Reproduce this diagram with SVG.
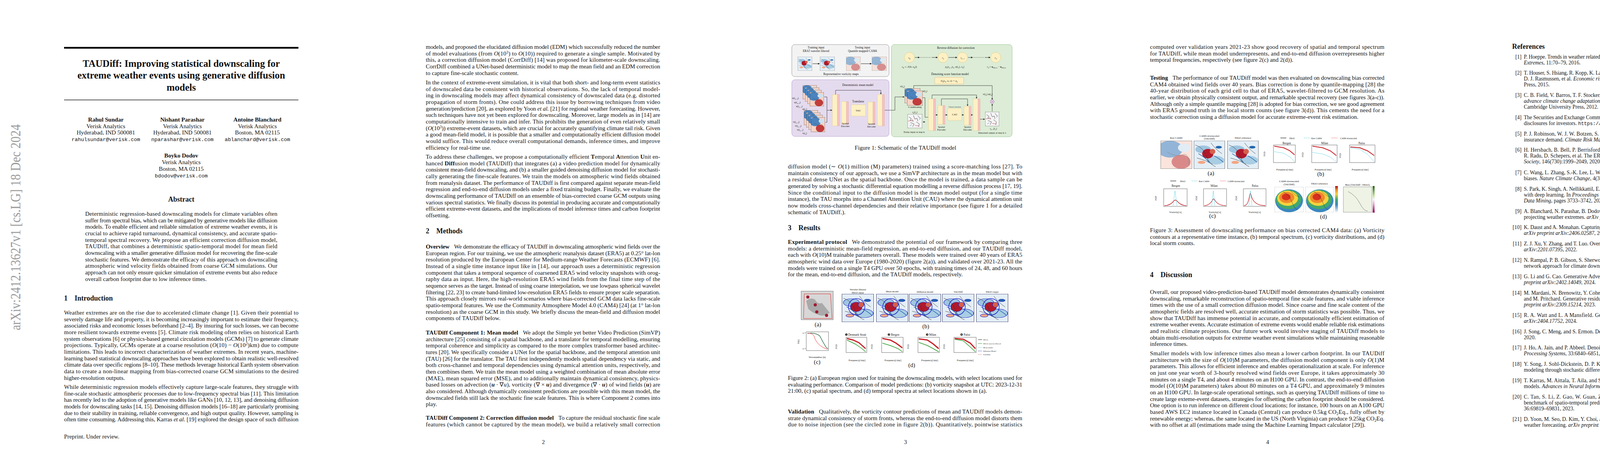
<svg xmlns="http://www.w3.org/2000/svg" width="4635" height="1200" viewBox="0 0 4635 1200">
<style>
text{font-family:"Liberation Serif","Times New Roman",serif;fill:#111}
.t{font-size:15.1px}
.r{font-size:13.6px}
.h{font-size:18px;font-weight:bold}
.f{font-size:7.5px}
.fs{font-size:6.5px}
.c{text-anchor:middle}
.m{font-family:"Liberation Mono","Courier New",monospace;font-size:13.3px}
.i{font-style:italic}
.b{font-weight:bold}
.ax{fill:#fff;stroke:#333;stroke-width:0.7}
.grid{stroke:#ddd;stroke-width:0.5}
</style>
<defs>
<symbol id="vort" viewBox="0 0 100 130" preserveAspectRatio="none">
<rect width="100" height="130" fill="#e4eef6"/>
<ellipse cx="30" cy="40" rx="25" ry="18" fill="#9ec5e0"/>
<ellipse cx="70" cy="90" rx="28" ry="20" fill="#a9cde3"/>
<ellipse cx="45" cy="60" rx="18" ry="22" fill="#b2182b"/>
<ellipse cx="60" cy="50" rx="9" ry="12" fill="#d6604d"/>
<ellipse cx="25" cy="100" rx="12" ry="7" fill="#f4a582"/>
<ellipse cx="80" cy="30" rx="10" ry="6" fill="#2166ac"/>
<path d="M5 20 Q30 30 40 70 T70 120 M55 10 Q70 40 90 60 M10 80 Q40 90 60 110" fill="none" stroke="#333" stroke-width="1.2"/>
<path d="M15 60 Q35 75 50 100 M65 70 Q80 80 95 100" fill="none" stroke="#2166ac" stroke-width="2"/>
<rect width="100" height="130" fill="none" stroke="#222" stroke-width="1.5"/>
</symbol>
<symbol id="blue" viewBox="0 0 100 100" preserveAspectRatio="none">
<rect width="100" height="100" fill="#f7d3c5"/>
<ellipse cx="30" cy="30" rx="40" ry="30" fill="#4a83bd"/>
<ellipse cx="65" cy="75" rx="30" ry="25" fill="#c23c3c"/>
<ellipse cx="75" cy="25" rx="20" ry="15" fill="#cfe1ef"/>
<path d="M20 40 Q50 60 70 50 T90 90" fill="none" stroke="#333" stroke-width="1"/>
<rect width="100" height="100" fill="none" stroke="#222" stroke-width="2"/>
</symbol>
<symbol id="noise" viewBox="0 0 100 100" preserveAspectRatio="none">
<rect width="100" height="100" fill="#f4f4f4"/>
<path d="M10 20 l15 10 l-5 15 l20 5 M40 10 l10 25 l15 -5 l5 20 M20 60 l25 10 l-10 20 M60 55 l20 15 l-5 20 M70 10 l15 20" fill="none" stroke="#222" stroke-width="2"/>
<path d="M5 50 l20 -5 M50 80 l30 5 M30 35 l10 15" stroke="#b2182b" stroke-width="2"/>
<path d="M15 85 l15 -10 M80 40 l10 -15" stroke="#2166ac" stroke-width="2"/>
<rect width="100" height="100" fill="none" stroke="#222" stroke-width="2"/>
</symbol>
<symbol id="storm" viewBox="0 0 100 100" preserveAspectRatio="none">
<rect width="100" height="100" fill="#fff" stroke="#999"/>
<ellipse cx="50" cy="55" rx="48" ry="45" fill="#3a87c0"/>
<ellipse cx="48" cy="50" rx="44" ry="38" fill="#43a96b"/>
<ellipse cx="45" cy="45" rx="36" ry="30" fill="#f5d33f"/>
<ellipse cx="42" cy="42" rx="26" ry="22" fill="#f08a2c"/>
<ellipse cx="40" cy="40" rx="15" ry="13" fill="#d7301f"/>
<path d="M30 20 Q50 30 60 60 T80 90 M55 15 Q70 35 85 40" fill="none" stroke="#222" stroke-width="0.8"/>
</symbol>
<marker id="ar" viewBox="0 0 10 10" refX="9" refY="5" markerWidth="5" markerHeight="5" orient="auto"><path d="M0 0L10 5L0 10z" fill="#222"/></marker>
</defs>
<rect width="4635" height="1200" fill="#fff"/>

<!-- PAGE 1 -->
<g id="page1">
<text transform="translate(52,845) rotate(-90)" font-size="36" style="fill:#9a9a9a" textLength="527" lengthAdjust="spacingAndGlyphs">arXiv:2412.13627v1  [cs.LG]  18 Dec 2024</text>
<rect x="164" y="120" width="600" height="4.5" fill="#000"/>
<text class="c" x="464" y="171" font-size="25" font-weight="bold">TAUDiff: Improving statistical downscaling for</text>
<text class="c" x="464" y="201" font-size="25" font-weight="bold">extreme weather events using generative diffusion</text>
<text class="c" x="464" y="232" font-size="25" font-weight="bold">models</text>
<rect x="164" y="255" width="600" height="1.3" fill="#000"/>
<text class="t c b" x="271" y="311">Rahul Sundar</text>
<text class="t c" x="271" y="328">Verisk Analytics</text>
<text class="t c" x="271" y="344">Hyderabad, IND 500081</text>
<text class="m c" x="271" y="361">rahulsundar@verisk.com</text>
<text class="t c b" x="467" y="311">Nishant Parashar</text>
<text class="t c" x="467" y="328">Verisk Analytics</text>
<text class="t c" x="467" y="344">Hyderabad, IND 500081</text>
<text class="m c" x="467" y="361">nparashar@verisk.com</text>
<text class="t c b" x="659" y="311">Antoine Blanchard</text>
<text class="t c" x="659" y="328">Verisk Analytics</text>
<text class="t c" x="659" y="344">Boston, MA 02115</text>
<text class="m c" x="659" y="361">ablanchard@verisk.com</text>
<text class="t c b" x="464" y="403">Boyko Dodov</text>
<text class="t c" x="464" y="420">Verisk Analytics</text>
<text class="t c" x="464" y="437">Boston, MA 02115</text>
<text class="m c" x="464" y="454">bdodov@verisk.com</text>
<text class="h c" x="464" y="516">Abstract</text>
<text class="t" x="218" y="552" textLength="492">Deterministic regression-based downscaling models for climate variables often</text>
<text class="t" x="218" y="568.6" textLength="492">suffer from spectral bias, which can be mitigated by generative models like diffusion</text>
<text class="t" x="218" y="585.3" textLength="492">models. To enable efficient and reliable simulation of extreme weather events, it is</text>
<text class="t" x="218" y="601.9" textLength="492">crucial to achieve rapid turnaround, dynamical consistency, and accurate spatio-</text>
<text class="t" x="218" y="618.6" textLength="492">temporal spectral recovery. We propose an efficient correction diffusion model,</text>
<text class="t" x="218" y="635.2" textLength="492">TAUDiff, that combines a deterministic spatio-temporal model for mean field</text>
<text class="t" x="218" y="651.9" textLength="492">downscaling with a smaller generative diffusion model for recovering the fine-scale</text>
<text class="t" x="218" y="668.5" textLength="492">stochastic features. We demonstrate the efficacy of this approach on downscaling</text>
<text class="t" x="218" y="685.2" textLength="492">atmospheric wind velocity fields obtained from coarse GCM simulations. Our</text>
<text class="t" x="218" y="701.8" textLength="492">approach can not only ensure quicker simulation of extreme events but also reduce</text>
<text class="t" x="218" y="718.5">overall carbon footprint due to low inference times.</text>
<text class="h" x="164" y="769">1</text><text class="h" x="191" y="769">Introduction</text>
<text class="t" x="164" y="805" textLength="600">Weather extremes are on the rise due to accelerated climate change [1]. Given their potential to</text>
<text class="t" x="164" y="821.6" textLength="600">severely damage life and property, it is becoming increasingly important to estimate their frequency,</text>
<text class="t" x="164" y="838.3" textLength="600">associated risks and economic losses beforehand [2–4]. By insuring for such losses, we can become</text>
<text class="t" x="164" y="854.9" textLength="600">more resilient towards extreme events [5]. Climate risk modeling often relies on historical Earth</text>
<text class="t" x="164" y="871.6" textLength="600">system observations [6] or physics-based general circulation models (GCMs) [7] to generate climate</text>
<text class="t" x="164" y="888.2" textLength="600">projections. Typically, GCMs operate at a coarse resolution (<tspan class="i">O</tspan>(10) − <tspan class="i">O</tspan>(10<tspan dy="-5" font-size="10">2</tspan><tspan dy="5">)km) due to compute</tspan></text>
<text class="t" x="164" y="904.9" textLength="600">limitations. This leads to incorrect characterization of weather extremes. In recent years, machine-</text>
<text class="t" x="164" y="921.5" textLength="600">learning based statistical downscaling approaches have been explored to obtain realistic well-resolved</text>
<text class="t" x="164" y="938.2" textLength="600">climate data over specific regions [8–10]. These methods leverage historical Earth system observation</text>
<text class="t" x="164" y="954.8" textLength="600">data to create a non-linear mapping from bias-corrected coarse GCM simulations to the desired</text>
<text class="t" x="164" y="971.5">higher-resolution outputs.</text>
<text class="t" x="164" y="995" textLength="600">While deterministic regression models effectively capture large-scale features, they struggle with</text>
<text class="t" x="164" y="1011.6" textLength="600">fine-scale stochastic atmospheric processes due to low-frequency spectral bias [11]. This limitation</text>
<text class="t" x="164" y="1028.3" textLength="600">has recently led to the adoption of generative models like GANs [10, 12, 13], and denoising diffusion</text>
<text class="t" x="164" y="1044.9" textLength="600">models for downscaling tasks [14, 15]. Denoising diffusion models [16–18] are particularly promising</text>
<text class="t" x="164" y="1061.6" textLength="600">due to their stability in training, reliable convergence, and high output quality. However, sampling is</text>
<text class="t" x="164" y="1078.2" textLength="600">often time consuming. Addressing this, Karras <tspan class="i">et al.</tspan> [19] explored the design space of such diffusion</text>
<text class="t" x="164" y="1122">Preprint. Under review.</text>
</g>

<!-- PAGE 2 -->
<g id="page2" transform="translate(927,0)">
<text class="t" x="163" y="125" textLength="600">models, and proposed the elucidated diffusion model (EDM) which successfully reduced the number</text>
<text class="t" x="163" y="141.6" textLength="600">of model evaluations (from <tspan class="i">O</tspan>(10<tspan dy="-5" font-size="10">3</tspan><tspan dy="5">) to </tspan><tspan class="i">O</tspan>(10)) required to generate a single sample. Motivated by</text>
<text class="t" x="163" y="158.3" textLength="600">this, a correction diffusion model (CorrDiff) [14] was proposed for kilometer-scale downscaling.</text>
<text class="t" x="163" y="174.9" textLength="600">CorrDiff combined a UNet-based deterministic model to map the mean field and an EDM correction</text>
<text class="t" x="163" y="191.6">to capture fine-scale stochastic content.</text>
<text class="t" x="163" y="216" textLength="600">In the context of extreme-event simulation, it is vital that both short- and long-term event statistics</text>
<text class="t" x="163" y="232.6" textLength="600">of downscaled data be consistent with historical observations. So, the lack of temporal model-</text>
<text class="t" x="163" y="249.3" textLength="600">ing in downscaling models may affect dynamical consistency of downscaled data (e.g. distorted</text>
<text class="t" x="163" y="265.9" textLength="600">propagation of storm fronts). One could address this issue by borrowing techniques from video</text>
<text class="t" x="163" y="282.6" textLength="600">generation/prediction [20], as explored by Yoon <tspan class="i">et al.</tspan> [21] for regional weather forecasting. However,</text>
<text class="t" x="163" y="299.2" textLength="600">such techniques have not yet been explored for downscaling. Moreover, large models as in [14] are</text>
<text class="t" x="163" y="315.9" textLength="600">computationally intensive to train and infer. This prohibits the generation of even relatively small</text>
<text class="t" x="163" y="332.5" textLength="600">(<tspan class="i">O</tspan>(10<tspan dy="-5" font-size="10">3</tspan><tspan dy="5">)) extreme-event datasets, which are crucial for accurately quantifying climate tail risk. Given</tspan></text>
<text class="t" x="163" y="349.2" textLength="600">a good mean-field model, it is possible that a smaller and computationally efficient diffusion model</text>
<text class="t" x="163" y="365.8" textLength="600">would suffice. This would reduce overall computational demands, inference times, and improve</text>
<text class="t" x="163" y="382.5">efficiency for real-time use.</text>
<text class="t" x="163" y="406" textLength="600">To address these challenges, we propose a computationally efficient <tspan class="b">T</tspan>emporal <tspan class="b">A</tspan>ttention <tspan class="b">U</tspan>nit en-</text>
<text class="t" x="163" y="422.6" textLength="600">hanced <tspan class="b">Diff</tspan>usion model (TAUDiff) that integrates (a) a video prediction model for dynamically</text>
<text class="t" x="163" y="439.3" textLength="600">consistent mean-field downscaling, and (b) a smaller guided denoising diffusion model for stochasti-</text>
<text class="t" x="163" y="455.9" textLength="600">cally generating the fine-scale features. We train the models on atmospheric wind fields obtained</text>
<text class="t" x="163" y="472.6" textLength="600">from reanalysis dataset. The performance of TAUDiff is first compared against separate mean-field</text>
<text class="t" x="163" y="489.2" textLength="600">regression and end-to-end diffusion models under a fixed training budget. Finally, we evaluate the</text>
<text class="t" x="163" y="505.9" textLength="600">downscaling performance of TAUDiff on an ensemble of bias-corrected coarse GCM outputs using</text>
<text class="t" x="163" y="522.5" textLength="600">various spectral statistics. We finally discuss its potential in producing accurate and computationally</text>
<text class="t" x="163" y="539.2" textLength="600">efficient extreme-event datasets, and the implications of model inference times and carbon footprint</text>
<text class="t" x="163" y="555.8">offsetting.</text>
<text class="h" x="163" y="597">2</text><text class="h" x="190" y="597">Methods</text>
<text class="t" x="163" y="636" textLength="600"><tspan class="b">Overview</tspan><tspan dx="12">We demonstrate the efficacy of TAUDiff in downscaling atmospheric wind fields over the</tspan></text>
<text class="t" x="163" y="652.6" textLength="600">European region. For our training, we use the atmospheric reanalysis dataset (ERA5) at 0.25° lat-lon</text>
<text class="t" x="163" y="669.3" textLength="600">resolution produced by the European Center for Medium-range Weather Forecasts (ECMWF) [6].</text>
<text class="t" x="163" y="685.9" textLength="600">Instead of a single time instance input like in [14], our approach uses a deterministic regression</text>
<text class="t" x="163" y="702.6" textLength="600">component that takes a temporal sequence of coarsened ERA5 wind velocity snapshots with orog-</text>
<text class="t" x="163" y="719.2" textLength="600">raphy data as input. Here, the high-resolution ERA5 wind fields from the final time step of the</text>
<text class="t" x="163" y="735.9" textLength="600">sequence serves as the target. Instead of using coarse interpolation, we use lowpass spherical wavelet</text>
<text class="t" x="163" y="752.5" textLength="600">filtering [22, 23] to create band-limited low-resolution ERA5 fields to ensure proper scale separation.</text>
<text class="t" x="163" y="769.2" textLength="600">This approach closely mirrors real-world scenarios where bias-corrected GCM data lacks fine-scale</text>
<text class="t" x="163" y="785.8" textLength="600">spatio-temporal features. We use the Community Atmosphere Model 4.0 (CAM4) [24] (at 1° lat-lon</text>
<text class="t" x="163" y="802.5" textLength="600">resolution) as the coarse GCM in this study. We briefly discuss the mean-field and diffusion model</text>
<text class="t" x="163" y="819.1">components of TAUDiff below.</text>
<text class="t" x="163" y="856" textLength="600"><tspan class="b">TAUDiff Component 1: Mean model</tspan><tspan dx="12">We adopt the Simple yet better Video Prediction (SimVP)</tspan></text>
<text class="t" x="163" y="872.6" textLength="600">architecture [25] consisting of a spatial backbone, and a translator for temporal modelling, ensuring</text>
<text class="t" x="163" y="889.3" textLength="600">temporal coherence and simplicity as compared to the more complex transformer based architec-</text>
<text class="t" x="163" y="905.9" textLength="600">tures [20]. We specifically consider a UNet for the spatial backbone, and the temporal attention unit</text>
<text class="t" x="163" y="922.6" textLength="600">(TAU) [26] for the translator. The TAU first independently models spatial dependency via static, and</text>
<text class="t" x="163" y="939.2" textLength="600">both cross-channel and temporal dependencies using dynamical attention units, respectively, and</text>
<text class="t" x="163" y="955.9" textLength="600">then combines them. We train the mean model using a weighted combination of mean absolute error</text>
<text class="t" x="163" y="972.5" textLength="600">(MAE), mean squared error (MSE), and to additionally maintain dynamical consistency, physics-</text>
<text class="t" x="163" y="989.2" textLength="600">based losses on advection (<tspan class="b i">u</tspan> · ∇<tspan class="i">u</tspan>), vorticity (∇ × <tspan class="b i">u</tspan>) and divergence (∇ · <tspan class="b i">u</tspan>) of wind fields (<tspan class="b i">u</tspan>) are</text>
<text class="t" x="163" y="1005.8" textLength="600">also considered. Although dynamically consistent predictions are possible with this mean model, the</text>
<text class="t" x="163" y="1022.5" textLength="600">downscaled fields still lack the stochastic fine scale features. This is where Component 2 comes into</text>
<text class="t" x="163" y="1039.1">play.</text>
<text class="t" x="163" y="1074" textLength="600"><tspan class="b">TAUDiff Component 2: Correction diffusion model</tspan><tspan dx="12">To capture the residual stochastic fine scale</tspan></text>
<text class="t" x="163" y="1090.6" textLength="600">features (which cannot be captured by the mean model), we build a relatively small correction</text>
<text class="t c" x="464" y="1136">2</text>
</g>

<!-- PAGE 3 -->
<g id="page3" transform="translate(1854,0)">
<g id="fig1">
<rect x="173" y="114" width="249" height="82" rx="8" fill="#f3f3f3" stroke="#9a9a9a"/>
<text class="f c" x="235" y="124">Training input</text>
<text class="f c" x="235" y="133">ERA5 wavelet filtered</text>
<text class="f c" x="354" y="124">Testing input</text>
<text class="f c" x="354" y="133">Quantile mapped CAM4</text>
<use href="#vort" x="188" y="145" width="37" height="36"/>
<use href="#vort" x="245" y="145" width="38" height="36"/>
<use href="#blue" x="312" y="145" width="37" height="36" opacity="0.55"/>
<use href="#blue" x="378" y="145" width="38" height="36" opacity="0.55"/>
<line x1="226" y1="163" x2="244" y2="163" stroke="#222" marker-end="url(#ar)"/>
<line x1="350" y1="163" x2="377" y2="163" stroke="#222" marker-end="url(#ar)"/>
<text class="f c" x="299" y="192">Representative vorticity snaps</text>

<rect x="173" y="204" width="249" height="145" rx="8" fill="#e5dbee" stroke="#b7a3cf"/>
<text class="f c" x="342" y="220">Deterministic mean model</text>
<use href="#blue" x="201" y="218" width="36" height="36"/>
<use href="#blue" x="207" y="224" width="36" height="36"/>
<use href="#blue" x="213" y="230" width="36" height="36"/>
<use href="#blue" x="219" y="236" width="36" height="36"/>
<use href="#blue" x="204" y="282" width="36" height="38"/>
<use href="#blue" x="210" y="288" width="36" height="38"/>
<use href="#blue" x="216" y="294" width="36" height="38"/>
<use href="#blue" x="222" y="300" width="36" height="38"/>
<text class="fs" x="174" y="253">u(t<tspan font-size="4.5" dy="2">n−3</tspan><tspan dy="-2">)</tspan></text>
<text class="fs" x="179" y="264">u(t<tspan font-size="4.5" dy="2">n−2</tspan><tspan dy="-2">)</tspan></text>
<text class="fs" x="184" y="274">u(t<tspan font-size="4.5" dy="2">n−1</tspan><tspan dy="-2">)</tspan></text>
<text class="fs" x="200" y="281">u(t<tspan font-size="4.5" dy="2">n</tspan><tspan dy="-2">)</tspan></text>
<text class="fs" x="176" y="314">v(t<tspan font-size="4.5" dy="2">n−3</tspan><tspan dy="-2">)</tspan></text>
<text class="fs" x="181" y="324">v(t<tspan font-size="4.5" dy="2">n−2</tspan><tspan dy="-2">)</tspan></text>
<text class="fs" x="186" y="334">v(t<tspan font-size="4.5" dy="2">n−1</tspan><tspan dy="-2">)</tspan></text>
<text class="fs" x="200" y="343">v(t<tspan font-size="4.5" dy="2">n</tspan><tspan dy="-2">)</tspan></text>
<path d="M256 248 H263 V282 M259 313 H263 V282 H276" fill="none" stroke="#222" stroke-width="0.8" marker-end="url(#ar)"/>
<rect x="277" y="242" width="13" height="80" fill="#fdf0c4" stroke="#e0c98a" stroke-width="0.6"/><rect x="290" y="242" width="5" height="80" fill="#f6c3c3" stroke="#e09a9a" stroke-width="0.6"/>
<rect x="300" y="260" width="13" height="58" fill="#fdf0c4" stroke="#e0c98a" stroke-width="0.6"/><rect x="313" y="260" width="5" height="58" fill="#f6c3c3" stroke="#e09a9a" stroke-width="0.6"/>
<rect x="325" y="268" width="37" height="29" fill="#fdf0c4" stroke="#e0c98a" stroke-width="0.6"/>
<text class="fs c" x="343" y="285">TAU</text>
<text class="f c" x="343" y="262">Translator</text>
<rect x="368" y="261" width="13" height="57" fill="#fdf0c4" stroke="#e0c98a" stroke-width="0.6"/><rect x="381" y="261" width="5" height="57" fill="#f6c3c3" stroke="#e09a9a" stroke-width="0.6"/>
<rect x="392" y="242" width="13" height="80" fill="#fdf0c4" stroke="#e0c98a" stroke-width="0.6"/><rect x="405" y="242" width="5" height="80" fill="#f6c3c3" stroke="#e09a9a" stroke-width="0.6"/>
<path d="M285 242 V231 H401 V241" fill="none" stroke="#222" stroke-width="0.8" marker-end="url(#ar)"/>
<text class="fs c" x="310" y="318">Spatial</text><text class="fs c" x="310" y="325">Encoder</text>
<text class="fs c" x="377" y="319">Spatial</text><text class="fs c" x="377" y="326">Decoder</text>

<rect x="428" y="114" width="309" height="236" rx="8" fill="#dcecd6" stroke="#9cc59a"/>
<text class="f c" x="593" y="125">Reverse diffusion for correction</text>
<g fill="#fdf0c4" stroke="#e5d38f">
<circle cx="474" cy="147" r="13"/><circle cx="560" cy="147" r="13"/><circle cx="610" cy="147" r="13"/><circle cx="695" cy="147" r="13"/>
</g>
<text class="fs c i" x="474" y="150">r<tspan font-size="4.5" dy="2">K</tspan></text>
<text class="fs c i" x="560" y="150">r<tspan font-size="4.5" dy="2">k</tspan></text>
<text class="fs c i" x="610" y="150">r<tspan font-size="4.5" dy="2">k−1</tspan></text>
<text class="fs c i" x="695" y="150">r<tspan font-size="4.5" dy="2">0</tspan></text>
<g stroke="#222" stroke-width="0.9">
<line x1="488" y1="147" x2="500" y2="147" marker-end="url(#ar)"/><line x1="502" y1="147" x2="529" y2="147" stroke-dasharray="1.5 2"/><line x1="531" y1="147" x2="546" y2="147" marker-end="url(#ar)"/>
<line x1="574" y1="147" x2="596" y2="147" marker-end="url(#ar)"/>
<line x1="624" y1="147" x2="636" y2="147" marker-end="url(#ar)"/><line x1="638" y1="147" x2="665" y2="147" stroke-dasharray="1.5 2"/><line x1="667" y1="147" x2="681" y2="147" marker-end="url(#ar)"/>
</g>
<text class="fs c" x="474" y="173"><tspan class="i">r</tspan><tspan font-size="4.5" dy="2">K</tspan><tspan dy="-2"> = 𝒩(0, σ</tspan><tspan font-size="4.5" dy="2">K</tspan><tspan dy="-2">I)</tspan></text>
<text class="fs c" x="590" y="173"><tspan class="i">p</tspan><tspan font-size="4.5" dy="2">k</tspan><tspan dy="-2">(r</tspan><tspan font-size="4.5" dy="2">k−1</tspan><tspan dy="-2">|r</tspan><tspan font-size="4.5" dy="2">k</tspan><tspan dy="-2">, u(t</tspan><tspan font-size="4.5" dy="2">n</tspan><tspan dy="-2">), σ</tspan><tspan font-size="4.5" dy="2">k</tspan><tspan dy="-2">)</tspan></text>
<text class="fs c" x="697" y="173"><tspan class="i">r</tspan><tspan font-size="4.5" dy="2">0</tspan><tspan dy="-2"> ≈ </tspan><tspan class="b">u</tspan><tspan font-size="4.5" dy="2">ERA5</tspan><tspan dy="-2"> − </tspan><tspan class="b">u</tspan><tspan font-size="4.5" dy="2">ERA5</tspan></text>
<text class="f c" x="578" y="192">Denoising score function model</text>
<rect x="539" y="198" width="74" height="17" fill="#fdf0c4" stroke="#e8b070" stroke-width="0.7"/>
<text class="fs c" x="576" y="209"><tspan class="i">D</tspan><tspan font-size="4.5" dy="2">θ</tspan><tspan dy="-2">(r</tspan><tspan font-size="4.5" dy="2">k</tspan><tspan dy="-2">, u, σ) ∼ p</tspan><tspan font-size="4.5" dy="2">k</tspan></text>
<text class="fs" x="450" y="223">v(t<tspan font-size="4.5" dy="2">n</tspan><tspan dy="-2">)</tspan></text>
<text class="fs" x="508" y="235">u(t<tspan font-size="4.5" dy="2">n</tspan><tspan dy="-2">)</tspan></text>
<use href="#blue" x="462" y="226" width="40" height="38"/>
<use href="#blue" x="468" y="232" width="40" height="38"/>
<text class="fs c" x="488" y="276">Conditioning</text>
<path d="M411 282 H437 V248 H461" fill="none" stroke="#222" stroke-width="0.8" marker-end="url(#ar)"/>
<text class="fs c" x="488" y="289">r<tspan font-size="4.5" dy="2">k</tspan><tspan dy="-2">(t</tspan><tspan font-size="4.5" dy="2">n</tspan><tspan dy="-2">)</tspan></text>
<use href="#noise" x="469" y="292" width="38" height="36"/>
<text class="fs c" x="486" y="340">Noisy input at step k</text>
<path d="M508 250 H514 V300 H522 M508 312 H514" fill="none" stroke="#222" stroke-width="0.8" marker-end="url(#ar)"/>
<rect x="523" y="253" width="13" height="81" fill="#fdf0c4" stroke="#e0c98a" stroke-width="0.6"/><rect x="536" y="253" width="5" height="81" fill="#f6c3c3" stroke="#e09a9a" stroke-width="0.6"/>
<rect x="547" y="270" width="13" height="48" fill="#fdf0c4" stroke="#e0c98a" stroke-width="0.6"/><rect x="560" y="270" width="5" height="48" fill="#f6c3c3" stroke="#e09a9a" stroke-width="0.6"/>
<rect x="572" y="278" width="36" height="30" fill="#fdf0c4" stroke="#e0c98a" stroke-width="0.6"/>
<text class="fs c" x="590" y="295">CAU</text>
<text class="c" font-size="4.5" x="590" y="275">Channel attention</text>
<rect x="614" y="272" width="13" height="48" fill="#fdf0c4" stroke="#e0c98a" stroke-width="0.6"/><rect x="627" y="272" width="5" height="48" fill="#f6c3c3" stroke="#e09a9a" stroke-width="0.6"/>
<rect x="637" y="253" width="13" height="81" fill="#fdf0c4" stroke="#e0c98a" stroke-width="0.6"/><rect x="650" y="253" width="5" height="81" fill="#f6c3c3" stroke="#e09a9a" stroke-width="0.6"/>
<g fill="none" stroke="#222" stroke-width="0.8">
<path d="M532 253 V243 H646 V252" marker-end="url(#ar)"/>
<path d="M556 270 V253 H623 V271" marker-end="url(#ar)"/>
<path d="M541 294 H546" marker-end="url(#ar)"/><path d="M565 294 H571" marker-end="url(#ar)"/><path d="M608 294 H613" marker-end="url(#ar)"/><path d="M632 294 H636" marker-end="url(#ar)"/><path d="M655 305 H667" marker-end="url(#ar)"/>
<path d="M485 226 V219 H686 V255" marker-end="url(#ar)"/>
<path d="M686 285 V266" marker-end="url(#ar)"/>
</g>
<circle cx="686" cy="260" r="5" fill="#e8cfe8" stroke="#a070a8" stroke-width="0.7"/>
<path d="M682.5 256.5 L689.5 263.5 M689.5 256.5 L682.5 263.5" stroke="#a070a8" stroke-width="0.7"/>
<text class="fs" x="662" y="243">v(t<tspan font-size="4.5" dy="2">n</tspan><tspan dy="-2">)  u(t</tspan><tspan font-size="4.5" dy="2">n</tspan><tspan dy="-2">)</tspan></text>
<use href="#noise" x="668" y="286" width="36" height="37"/>
<text class="fs c" x="689" y="331">r<tspan font-size="4.5" dy="2">k−1</tspan><tspan dy="-2">(t</tspan><tspan font-size="4.5" dy="2">n</tspan><tspan dy="-2">)</tspan></text>
<text class="fs c" x="686" y="342">Denoised output at step k-1</text>
<text class="fs c" x="556" y="327">Spatial</text><text class="fs c" x="556" y="334">Encoder</text>
<text class="fs c" x="623" y="327">Spatial</text><text class="fs c" x="623" y="334">Decoder</text>
</g>
<text class="t c" x="464" y="383">Figure 1: Schematic of the TAUDiff model</text>
<text class="t" x="163" y="431" textLength="600">diffusion model (∼ <tspan class="i">O</tspan>(1) million (M) parameters) trained using a score-matching loss [27]. To</text>
<text class="t" x="163" y="447.6" textLength="600">maintain consistency of our approach, we use a SimVP architecture as in the mean model but with</text>
<text class="t" x="163" y="464.3" textLength="600">a residual dense UNet as the spatial backbone. Once the model is trained, a data sample can be</text>
<text class="t" x="163" y="480.9" textLength="600">generated by solving a stochastic differential equation modelling a reverse diffusion process [17, 19].</text>
<text class="t" x="163" y="497.6" textLength="600">Since the conditional input to the diffusion model is the mean model output (for a single time</text>
<text class="t" x="163" y="514.2" textLength="600">instance), the TAU morphs into a Channel Attention Unit (CAU) where the dynamical attention unit</text>
<text class="t" x="163" y="530.9" textLength="600">now models cross-channel dependencies and their relative importance (see figure 1 for a detailed</text>
<text class="t" x="163" y="547.5">schematic of TAUDiff.).</text>
<text class="h" x="163" y="589">3</text><text class="h" x="190" y="589">Results</text>
<text class="t" x="163" y="624" textLength="600"><tspan class="b">Experimental protocol</tspan><tspan dx="12">We demonstrated the potential of our framework by comparing three</tspan></text>
<text class="t" x="163" y="640.6" textLength="600">models: a deterministic mean-field regression, an end-to-end diffusion, and our TAUDiff model,</text>
<text class="t" x="163" y="657.3" textLength="600">each with <tspan class="i">O</tspan>(10)M trainable parameters overall. These models were trained over 40 years of ERA5</text>
<text class="t" x="163" y="673.9" textLength="600">atmospheric wind data over Europe (1980-2020) (figure 2(a)), and validated over 2021-23. All the</text>
<text class="t" x="163" y="690.6" textLength="600">models were trained on a single T4 GPU over 50 epochs, with training times of 24, 48, and 60 hours</text>
<text class="t" x="163" y="707.2">for the mean, end-to-end diffusion, and the TAUDiff models, respectively.</text>
<g id="fig2">
<rect x="197" y="745" width="82" height="73" fill="#d7d7d7" stroke="#777"/>
<path d="M210 770 Q220 760 232 766 Q240 780 250 775 Q262 790 270 800 Q255 812 240 805 Q225 800 215 790 Z" fill="#a9a9a9"/>
<path d="M205 752 L272 752 L276 815 L203 815 Z" fill="none" stroke="#d33" stroke-width="1"/>
<g fill="#9e1b32"><circle cx="214" cy="760" r="4"/><circle cx="233" cy="780" r="4"/><circle cx="237" cy="798" r="4"/><circle cx="262" cy="807" r="4"/></g>
<text class="t c" font-size="10" x="240" y="835">(a)</text>
<text class="fs c" x="342" y="743">Wavelet filtered</text><text class="fs c" x="342" y="751">ERA5 input</text>
<text class="fs c" x="430" y="748">Mean model</text>
<text class="fs c" x="514" y="749">Diffusion model</text>
<text class="fs c" x="599" y="749">TAUDiff</text>
<text class="fs c" x="686" y="749">ERA5 target</text>
<g fill="none" stroke="#1d24c8" stroke-width="1.5">
<use href="#vort" x="301" y="752" width="82" height="72"/><circle cx="339" cy="785" r="21"/>
<use href="#vort" x="389" y="752" width="82" height="72"/><circle cx="427" cy="785" r="21"/>
<use href="#vort" x="473" y="752" width="82" height="72"/><circle cx="511" cy="785" r="21"/>
<use href="#vort" x="558" y="752" width="82" height="72"/><circle cx="596" cy="785" r="21"/>
<use href="#vort" x="645" y="752" width="82" height="72"/><circle cx="683" cy="785" r="21"/>
</g>
<text class="t c" font-size="10" x="516" y="840">(b)</text>
<rect x="210" y="849" width="57" height="48" class="ax"/>
<path d="M213 853 Q235 850 245 860 Q255 880 262 890 L266 892" fill="none" stroke="#1a5e3a" stroke-width="1.3"/>
<path d="M213 853 Q225 851 230 860 Q235 880 255 890 L265 894" fill="none" stroke="#e33" stroke-width="1"/>
<text class="fs" transform="translate(192,880) rotate(-90)">P(k)</text>
<text class="c" font-size="5" x="204" y="854">10⁻¹</text><text class="c" font-size="5" x="204" y="894">10⁻⁴</text>
<text class="fs c" x="238" y="916">Wavenumber (k)</text>
<text class="t c" font-size="10" x="238" y="931">(c)</text>
<g>
<rect x="312" y="863" width="53" height="39" class="ax"/><rect x="403" y="863" width="55" height="39" class="ax"/><rect x="496" y="863" width="55" height="39" class="ax"/><rect x="588" y="863" width="57" height="39" class="ax"/>
<path d="M314 866 L330 870 L345 877 L362 892" stroke="#c81d25" stroke-width="3" fill="none"/>
<path d="M314 870 L335 880 L350 890 L362 900" stroke="#2a9d2a" stroke-width="1.5" fill="none"/>
<path d="M405 866 L425 870 L440 878 L456 890" stroke="#c81d25" stroke-width="3" fill="none"/>
<path d="M405 878 L425 884 L445 892 L456 900" stroke="#2a9d2a" stroke-width="1.5" fill="none"/>
<path d="M498 867 L520 870 L535 880 L549 892" stroke="#c81d25" stroke-width="3" fill="none"/>
<path d="M498 876 L520 884 L535 892 L549 900" stroke="#2a9d2a" stroke-width="1.5" fill="none"/>
<path d="M590 866 L612 868 L630 878 L643 892" stroke="#c81d25" stroke-width="3" fill="none"/>
<path d="M590 868 L612 872 L630 888 L643 900" stroke="#2a9d2a" stroke-width="1.5" fill="none"/>
</g>
<text class="f c" x="336" y="859">❶ Denmark Strait</text><text class="f c" x="433" y="859">❷  Bergen</text><text class="f c" x="529" y="859">❸  Milan</text><text class="f c" x="617" y="859">❹  Pafos</text>
<text class="fs" transform="translate(289,893) rotate(-90)">PSD</text><text class="fs" transform="translate(380,893) rotate(-90)">PSD</text><text class="fs" transform="translate(473,893) rotate(-90)">PSD</text><text class="fs" transform="translate(565,893) rotate(-90)">PSD</text>
<text class="fs c" x="340" y="924">Frequency[/day]</text><text class="fs c" x="432" y="924">Frequency[/day]</text><text class="fs c" x="526" y="924">Frequency[/day]</text><text class="fs c" x="617" y="924">Frequency[/day]</text>
<text class="t c" font-size="10" x="480" y="939">(d)</text>
<g font-size="5">
<line x1="650" y1="869" x2="660" y2="869" stroke="#222"/><text x="663" y="871">ERA5</text>
<line x1="650" y1="879" x2="660" y2="879" stroke="#2a9d2a"/><text x="663" y="881">ERA5 wavelet filtered</text>
<line x1="650" y1="889" x2="660" y2="889" stroke="#3cc8e0" stroke-dasharray="2 1"/><text x="663" y="891">Mean model</text>
<line x1="650" y1="898" x2="660" y2="898" stroke="#1d2fa8" stroke-dasharray="2 1"/><text x="663" y="900">Diffusion Model</text>
<line x1="650" y1="907" x2="660" y2="907" stroke="#e33" stroke-dasharray="1 1"/><text x="663" y="909">TAUDiff</text>
</g>
</g>
<text class="t" x="163" y="972" textLength="600">Figure 2: (a) European region used for training the downscaling models, with select locations used for</text>
<text class="t" x="163" y="988.6" textLength="600">evaluating performance. Comparison of model predictions: (b) vorticity snapshot at UTC: 2023-12-31</text>
<text class="t" x="163" y="1005.3">21:00, (c) spatial spectrum, and (d) temporal spectra at select locations shown in (a).</text>
<text class="t" x="163" y="1058" textLength="600"><tspan class="b">Validation</tspan><tspan dx="12">Qualitatively, the vorticity contour predictions of mean and TAUDiff models demon-</tspan></text>
<text class="t" x="163" y="1074.6" textLength="600">strate dynamical consistency of storm fronts, whereas the end-to-end diffusion model distorts them</text>
<text class="t" x="163" y="1091.3" textLength="600">due to noise injection (see the circled zone in figure 2(b)). Quantitatively, pointwise statistics</text>
<text class="t c" x="464" y="1136">3</text>
</g>

<!-- PAGE 4 -->
<g id="page4" transform="translate(2781,0)">
<text class="t" x="163" y="125" textLength="600">computed over validation years 2021-23 show good recovery of spatial and temporal spectrum</text>
<text class="t" x="163" y="141.6" textLength="600">for TAUDiff, while mean model underrepresents, and end-to-end diffusion overrepresents higher</text>
<text class="t" x="163" y="158.3">temporal frequencies, respectively (see figure 2(c) and 2(d)).</text>
<text class="t" x="163" y="204" textLength="600"><tspan class="b">Testing</tspan><tspan dx="12">The performance of our TAUDiff model was then evaluated on downscaling bias corrected</tspan></text>
<text class="t" x="163" y="220.6" textLength="600">CAM4 obtained wind fields over 40 years. Bias correction is done by quantile-mapping [28] the</text>
<text class="t" x="163" y="237.3" textLength="600">40-year distribution of each grid cell to that of ERA5, wavelet-filtered to GCM resolution. As</text>
<text class="t" x="163" y="253.9" textLength="600">earlier, we obtain physically consistent output, and remarkable spectral recovery (see figures 3(a-c)).</text>
<text class="t" x="163" y="270.6" textLength="600">Although only a simple quantile mapping [28] is adopted for bias correction, we see good agreement</text>
<text class="t" x="163" y="287.2" textLength="600">with ERA5 ground truth in the local storm counts (see figure 3(d)). This cements the need for a</text>
<text class="t" x="163" y="303.9">stochastic correction using a diffusion model for accurate extreme-event risk estimation.</text>
<g id="fig3">
<text class="fs c" x="230" y="355">Raw CAM4</text>
<text class="fs c" x="315" y="350">CAM4 downscaled</text><text class="fs c" x="315" y="357">(TAUDiff)</text>
<text class="fs c" x="401" y="355">ERA5 reference</text>
<use href="#blue" x="190" y="360" width="81" height="72" opacity="0.6"/>
<use href="#vort" x="275" y="360" width="80" height="72"/>
<use href="#vort" x="361" y="360" width="80" height="72"/>
<text class="t c" font-size="10" x="319" y="448">(a)</text>
<g font-size="5.5">
<line x1="497" y1="353" x2="512" y2="353" stroke="#222" stroke-width="1.2"/><text x="520" y="356">ERA5</text>
<line x1="557" y1="353" x2="572" y2="353" stroke="#3cc8e0" stroke-dasharray="2 1.5" stroke-width="1.2"/><text x="576" y="356">Raw CAM4</text>
<line x1="628" y1="353" x2="643" y2="353" stroke="#e33" stroke-dasharray="2 1.5" stroke-width="1.2"/><text x="650" y="356">CAM4 downscaled</text>
</g>
<rect x="479" y="371" width="56" height="45" class="ax"/><rect x="577" y="371" width="65" height="45" class="ax"/><rect x="674" y="371" width="65" height="45" class="ax"/>
<path d="M481 374 L505 378 L520 385 L533 396" stroke="#c81d25" stroke-width="2" fill="none"/><path d="M481 388 L505 392 L522 402 L533 414" stroke="#3cc8e0" stroke-dasharray="2 1" fill="none"/>
<path d="M579 374 L605 378 L625 386 L640 398" stroke="#c81d25" stroke-width="2" fill="none"/><path d="M579 390 L605 394 L625 402 L640 414" stroke="#3cc8e0" stroke-dasharray="2 1" fill="none"/>
<path d="M676 376 L700 378 L720 386 L737 398" stroke="#c81d25" stroke-width="2" fill="none"/><path d="M676 378 L700 382 L720 395 L737 414" stroke="#3cc8e0" stroke-dasharray="2 1" fill="none"/>
<text class="f c" x="513" y="369">Bergen</text><text class="f c" x="610" y="369">Milan</text><text class="f c" x="705" y="369">Pafos</text>
<text class="fs" transform="translate(458,400) rotate(-90)">PSD</text><text class="fs" transform="translate(556,402) rotate(-90)">PSD</text><text class="fs" transform="translate(652,404) rotate(-90)">PSD</text>
<text class="fs c" x="508" y="436">Frequency[/day]</text><text class="fs c" x="606" y="436">Frequency[/day]</text><text class="fs c" x="701" y="436">Frequency[/day]</text>
<text class="t c" font-size="10" x="600" y="450">(b)</text>
<g font-size="5.5">
<line x1="215" y1="463" x2="230" y2="463" stroke="#222" stroke-width="1.2"/><text x="240" y="466">ERA5</text>
<line x1="270" y1="463" x2="285" y2="463" stroke="#3cc8e0" stroke-dasharray="2 1.5" stroke-width="1.2"/><text x="288" y="466">Raw CAM4</text>
<line x1="343" y1="463" x2="358" y2="463" stroke="#e33" stroke-dasharray="2 1.5" stroke-width="1.2"/><text x="362" y="466">CAM4 downscaled</text>
</g>
<rect x="198" y="483" width="60" height="45" class="ax"/><rect x="300" y="483" width="59" height="45" class="ax"/><rect x="402" y="483" width="58" height="45" class="ax"/>
<path d="M200 526 Q215 526 224 514 Q228 510 232 514 Q241 526 256 526" stroke="#c81d25" stroke-width="1.3" fill="none"/><path d="M222 526 L227 488 L232 526" stroke="#3cc8e0" stroke-dasharray="2 1" fill="none"/>
<path d="M302 526 Q315 526 323 512 Q326 506 329 512 Q337 526 357 526" stroke="#c81d25" stroke-width="1.3" fill="none"/><path d="M321 526 L325 488 L329 526" stroke="#3cc8e0" stroke-dasharray="2 1" fill="none"/>
<path d="M404 526 Q414 526 418 500 Q420 490 422 500 Q428 526 458 526" stroke="#c81d25" stroke-width="1.3" fill="none"/><path d="M416 526 L420 488 L424 526" stroke="#3cc8e0" stroke-dasharray="2 1" fill="none"/>
<text class="f c" x="229" y="478">Bergen</text><text class="f c" x="327" y="478">Milan</text><text class="f c" x="432" y="478">Pafos</text>
<text class="fs" transform="translate(180,513) rotate(-90)">PDF</text><text class="fs" transform="translate(284,513) rotate(-90)">PDF</text><text class="fs" transform="translate(386,513) rotate(-90)">PDF</text>
<text class="fs c" x="228" y="545">Vorticity[/s]</text><text class="fs c" x="329" y="545">Vorticity[/s]</text><text class="fs c" x="431" y="545">Vorticity[/s]</text>
<text class="t c" font-size="10" x="323" y="557">(c)</text>
<text class="fs c" x="519" y="466">CAM4 downscaled</text><text class="fs c" x="519" y="474">(TAUDiff)</text>
<text class="fs c" x="597" y="472">ERA5 reference</text>
<text class="fs c" x="694" y="475">Bias (TAUDiff - ERA5)</text>
<use href="#storm" x="482" y="478" width="74" height="65"/>
<use href="#storm" x="561" y="478" width="73" height="65"/>
<rect x="658" y="478" width="73" height="65" fill="#eef3e6" stroke="#999"/>
<path d="M670 490 Q690 500 700 520 T720 540" fill="none" stroke="#333" stroke-width="0.6"/>
<rect x="637" y="476" width="7" height="68" fill="url(#cb1)"/>
<rect x="733" y="476" width="5" height="68" fill="url(#cb2)"/>
<defs>
<linearGradient id="cb1" x1="0" y1="1" x2="0" y2="0"><stop offset="0" stop-color="#f7fbff"/><stop offset="0.3" stop-color="#3a87c0"/><stop offset="0.5" stop-color="#43a96b"/><stop offset="0.7" stop-color="#f5d33f"/><stop offset="0.85" stop-color="#f08a2c"/><stop offset="1" stop-color="#a50f15"/></linearGradient>
<linearGradient id="cb2" x1="0" y1="1" x2="0" y2="0"><stop offset="0" stop-color="#8e0152"/><stop offset="0.35" stop-color="#f1b6da"/><stop offset="0.5" stop-color="#f7f7f7"/><stop offset="0.65" stop-color="#b8e186"/><stop offset="1" stop-color="#276419"/></linearGradient>
</defs>
<text class="t c" font-size="10" x="607" y="559">(d)</text>
</g>
<text class="t" x="163" y="594" textLength="600">Figure 3: Assessment of downscaling performance on bias corrected CAM4 data: (a) Vorticity</text>
<text class="t" x="163" y="610.6" textLength="600">contours at a representative time instance, (b) temporal spectrum, (c) vorticity distributions, and (d)</text>
<text class="t" x="163" y="627.3">local storm counts.</text>
<text class="h" x="163" y="709">4</text><text class="h" x="190" y="709">Discussion</text>
<text class="t" x="163" y="752" textLength="600">Overall, our proposed video-prediction-based TAUDiff model demonstrates dynamically consistent</text>
<text class="t" x="163" y="768.6" textLength="600">downscaling, remarkable reconstruction of spatio-temporal fine scale features, and viable inference</text>
<text class="t" x="163" y="785.3" textLength="600">times with the use of a small correction diffusion model. Since coarse and fine scale content of the</text>
<text class="t" x="163" y="801.9" textLength="600">atmospheric fields are resolved well, accurate estimation of storm statistics was possible. Thus, we</text>
<text class="t" x="163" y="818.6" textLength="600">show that TAUDiff has immense potential in accurate, and computationally efficient estimation of</text>
<text class="t" x="163" y="835.2" textLength="600">extreme weather events. Accurate estimation of extreme events would enable reliable risk estimations</text>
<text class="t" x="163" y="851.9" textLength="600">and realistic climate projections. Our future work would involve staging of TAUDiff models to</text>
<text class="t" x="163" y="868.5" textLength="600">obtain multi-resolution outputs for extreme weather event simulations while maintaining reasonable</text>
<text class="t" x="163" y="885.2">inference times.</text>
<text class="t" x="163" y="909" textLength="600">Smaller models with low inference times also mean a lower carbon footprint. In our TAUDiff</text>
<text class="t" x="163" y="925.6" textLength="600">architecture with the size of <tspan class="i">O</tspan>(10)M parameters, the diffusion model component is only <tspan class="i">O</tspan>(1)M</text>
<text class="t" x="163" y="942.3" textLength="600">parameters. This allows for efficient inference and enables operationalization at scale. For inference</text>
<text class="t" x="163" y="958.9" textLength="600">on just one year worth of 3-hourly resolved wind fields over Europe, it takes approximately 30</text>
<text class="t" x="163" y="975.6" textLength="600">minutes on a single T4, and about 4 minutes on an H100 GPU. In contrast, the end-to-end diffusion</text>
<text class="t" x="163" y="992.2" textLength="600">model (<tspan class="i">O</tspan>(10)M parameters) takes about 80 minutes on a T4 GPU, and approximately 9 minutes</text>
<text class="t" x="163" y="1008.9" textLength="600">on an H100 GPU. In large-scale operational settings, such as querying TAUDiff millions of time to</text>
<text class="t" x="163" y="1025.5" textLength="600">create large exteme-event datasets, strategies for offsetting the carbon footprint should be considered.</text>
<text class="t" x="163" y="1042.2" textLength="600">One option is to run inference on different cloud locations; for instance, 100 hours on an A100 GPU</text>
<text class="t" x="163" y="1058.8" textLength="600">based AWS EC2 instance located in Canada (Central) can produce 0.5kg CO<tspan font-size="10" dy="3">2</tspan><tspan dy="-3">Eq., fully offset by</tspan></text>
<text class="t" x="163" y="1075.5" textLength="600">renewable energy; whereas, the same located in the US (North Virginia) can produce 9.25kg CO<tspan font-size="10" dy="3">2</tspan><tspan dy="-3">Eq.</tspan></text>
<text class="t" x="163" y="1092.1">with no offset at all (estimations made using the Machine Learning Impact calculator [29]).</text>
<text class="t c" x="464" y="1136">4</text>
</g>

<!-- PAGE 5 -->
<g id="page5" transform="translate(3708,0)">
<text class="h" x="163" y="125">References</text>
<g class="r">
<text class="r" x="187" y="150" text-anchor="end">[1]</text>
<text class="r" x="193" y="150" textLength="570">P. Hoeppe. Trends in weather related disasters–consequences for insurers and society. <tspan class="i">Weather and Climate</tspan></text>
<text class="r" x="193" y="164.9"><tspan class="i">Extremes</tspan>, 11:70–79, 2016.</text>
<text class="r" x="187" y="191" text-anchor="end">[2]</text>
<text class="r" x="193" y="191" textLength="570">T. Houser, S. Hsiang, R. Kopp, K. Larsen, M. Delgado, A. Jina, M. Mastrandrea, S. Mohan, R. Muir-Wood,</text>
<text class="r" x="193" y="205.9" textLength="570">D. J. Rasmussen, et al. <tspan class="i">Economic risks of climate change: an American prospectus</tspan>. Columbia University</text>
<text class="r" x="193" y="220.8">Press, 2015.</text>
<text class="r" x="187" y="248" text-anchor="end">[3]</text>
<text class="r" x="193" y="248" textLength="570">C. B. Field, V. Barros, T. F. Stocker, and Q. Dahe. <tspan class="i">Managing the risks of extreme events and disasters to</tspan></text>
<text class="r" x="193" y="262.9" textLength="570"><tspan class="i">advance climate change adaptation: Special report of the Intergovernmental Panel on Climate Change</tspan>.</text>
<text class="r" x="193" y="277.8">Cambridge University Press, 2012.</text>
<text class="r" x="187" y="305" text-anchor="end">[4]</text>
<text class="r" x="193" y="305" textLength="570">The Securities and Exchange Commission. SEC proposes rules to enhance and standardize climate-related</text>
<text class="r" x="193" y="319.9">disclosures for investors. <tspan font-family="Liberation Mono, monospace" font-size="12.5">https://www.sec.gov/news/press-release/2022-46</tspan>, March 21, 2022.</text>
<text class="r" x="187" y="347" text-anchor="end">[5]</text>
<text class="r" x="193" y="347" textLength="570">P. J. Robinson, W. J. W. Botzen, S. Duijndam, and A. Molenaar. Risk communication nudges and flood</text>
<text class="r" x="193" y="361.9">insurance demand. <tspan class="i">Climate Risk Management</tspan>, 34:100366, 2021.</text>
<text class="r" x="187" y="388" text-anchor="end">[6]</text>
<text class="r" x="193" y="388" textLength="570">H. Hersbach, B. Bell, P. Berrisford, S. Hirahara, A. Horányi, J. Muñoz-Sabater, J. Nicolas, C. Peubey,</text>
<text class="r" x="193" y="402.9" textLength="570">R. Radu, D. Schepers, et al. The ERA5 global reanalysis. <tspan class="i">Quarterly Journal of the Royal Meteorological</tspan></text>
<text class="r" x="193" y="417.8"><tspan class="i">Society</tspan>, 146(730):1999–2049, 2020.</text>
<text class="r" x="187" y="446" text-anchor="end">[7]</text>
<text class="r" x="193" y="446" textLength="570">C. Wang, L. Zhang, S.-K. Lee, L. Wu, and C. R. Mechoso. A global perspective on CMIP5 climate model</text>
<text class="r" x="193" y="460.9">biases. <tspan class="i">Nature Climate Change</tspan>, 4(3):201–205, 2014.</text>
<text class="r" x="187" y="488" text-anchor="end">[8]</text>
<text class="r" x="193" y="488" textLength="570">S. Park, K. Singh, A. Nellikkattil, E. Zeller, and M. Mai, T. D.and Cha. Downscaling earth system models</text>
<text class="r" x="193" y="502.9" textLength="570">with deep learning. In <tspan class="i">Proceedings of the 28th ACM SIGKDD Conference on Knowledge Discovery and</tspan></text>
<text class="r" x="193" y="517.8"><tspan class="i">Data Mining</tspan>, pages 3733–3742, 2022.</text>
<text class="r" x="187" y="545" text-anchor="end">[9]</text>
<text class="r" x="193" y="545" textLength="570">A. Blanchard, N. Parashar, B. Dodov, C. Lessig, and T. Sapsis. A multi-scale deep learning framework for</text>
<text class="r" x="193" y="559.9">projecting weather extremes. <tspan class="i">arXiv preprint arXiv:2210.12137</tspan>, 2022.</text>
<text class="r" x="187" y="586" text-anchor="end">[10]</text>
<text class="r" x="193" y="586" textLength="570">K. Daust and A. Monahan. Capturing climatic variability: Using deep learning for stochastic downscaling.</text>
<text class="r" x="193" y="600.9"><tspan class="i">arXiv preprint arXiv:2406.02587</tspan>, 2024.</text>
<text class="r" x="187" y="628" text-anchor="end">[11]</text>
<text class="r" x="193" y="628" textLength="570">Z. J. Xu, Y. Zhang, and T. Luo. Overview frequency principle/spectral bias in deep learning. <tspan class="i">arXiv preprint</tspan></text>
<text class="r" x="193" y="642.9"><tspan class="i">arXiv:2201.07395</tspan>, 2022.</text>
<text class="r" x="187" y="670" text-anchor="end">[12]</text>
<text class="r" x="193" y="670" textLength="570">N. Rampal, P. B. Gibson, S. Sherwood, G. Abramowitz, and S. Hobeichi. A robust generative adversarial</text>
<text class="r" x="193" y="684.9">network approach for climate downscaling and weather generation. <tspan class="i">Authorea Preprints</tspan>, 2024.</text>
<text class="r" x="187" y="712" text-anchor="end">[13]</text>
<text class="r" x="193" y="712" textLength="570">G. Li and G. Cao. Generative Adversarial Models for Extreme Downscaling of Climate Datasets. <tspan class="i">arXiv</tspan></text>
<text class="r" x="193" y="726.9"><tspan class="i">preprint arXiv:2402.14049</tspan>, 2024.</text>
<text class="r" x="187" y="754" text-anchor="end">[14]</text>
<text class="r" x="193" y="754" textLength="570">M. Mardani, N. Brenowitz, Y. Cohen, J. Pathak, C.Y. Chen, C.C. Liu, A. Vahdat, K. Kashinath, J. Kautz,</text>
<text class="r" x="193" y="768.9" textLength="570">and M. Pritchard. Generative residual diffusion modeling for km-scale atmospheric downscaling. <tspan class="i">arXiv</tspan></text>
<text class="r" x="193" y="783.8"><tspan class="i">preprint arXiv:2309.15214</tspan>, 2023.</text>
<text class="r" x="187" y="811" text-anchor="end">[15]</text>
<text class="r" x="193" y="811" textLength="570">R. A. Watt and L. A Mansfield. Generative diffusion-based downscaling for climate. <tspan class="i">arXiv preprint</tspan></text>
<text class="r" x="193" y="825.9"><tspan class="i">arXiv:2404.17752</tspan>, 2024.</text>
<text class="r" x="187" y="853" text-anchor="end">[16]</text>
<text class="r" x="193" y="853" textLength="570">J. Song, C. Meng, and S. Ermon. Denoising diffusion implicit models. <tspan class="i">arXiv preprint arXiv:2010.02502</tspan>,</text>
<text class="r" x="193" y="867.9">2020.</text>
<text class="r" x="187" y="894" text-anchor="end">[17]</text>
<text class="r" x="193" y="894" textLength="570">J. Ho, A. Jain, and P. Abbeel. Denoising diffusion probabilistic models. <tspan class="i">Advances in Neural Information</tspan></text>
<text class="r" x="193" y="908.9"><tspan class="i">Processing Systems</tspan>, 33:6840–6851, 2020.</text>
<text class="r" x="187" y="936" text-anchor="end">[18]</text>
<text class="r" x="193" y="936" textLength="570">Y. Song, J. Sohl-Dickstein, D. P. Kingma, A. Kumar, S. Ermon, and B. Poole. Score-based generative</text>
<text class="r" x="193" y="950.9">modeling through stochastic differential equations. <tspan class="i">arXiv preprint arXiv:2011.13456</tspan>, 2020.</text>
<text class="r" x="187" y="978" text-anchor="end">[19]</text>
<text class="r" x="193" y="978" textLength="570">T. Karras, M. Aittala, T. Aila, and S. Laine. Elucidating the design space of diffusion-based generative</text>
<text class="r" x="193" y="992.9">models. <tspan class="i">Advances in Neural Information Processing Systems</tspan>, 35:26565–26577, 2022.</text>
<text class="r" x="187" y="1020" text-anchor="end">[20]</text>
<text class="r" x="193" y="1020" textLength="570">C. Tan, S. Li, Z. Gao, W. Guan, Z. Wang, Z. Liu, L. Wu, and S. Z. Li. Openstl: A comprehensive</text>
<text class="r" x="193" y="1034.9" textLength="570">benchmark of spatio-temporal predictive learning. <tspan class="i">Advances in Neural Information Processing Systems</tspan>,</text>
<text class="r" x="193" y="1049.8">36:69819–69831, 2023.</text>
<text class="r" x="187" y="1077" text-anchor="end">[21]</text>
<text class="r" x="193" y="1077" textLength="570">D. Yoon, M. Seo, D. Kim, Y. Choi, and D. Cho. Deterministic guidance diffusion model for probabilistic</text>
<text class="r" x="193" y="1091.9">weather forecasting. <tspan class="i">arXiv preprint arXiv:2312.02819</tspan>, 2023.</text>
</g>
<text class="t c" x="464" y="1136">5</text>
</g>
</svg>
